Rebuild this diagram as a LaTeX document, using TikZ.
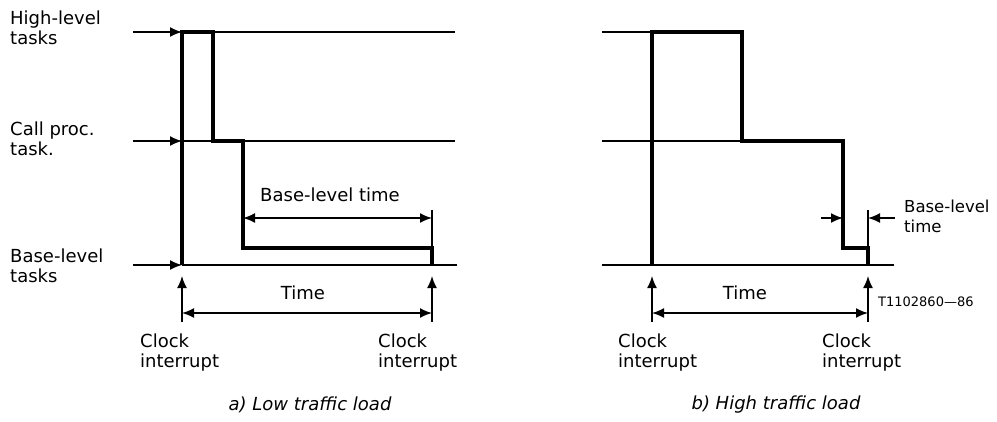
\documentclass[tikz,border=0pt]{standalone}
\usepackage{fontspec}
\setmainfont{DejaVu Sans}
\usetikzlibrary{arrows.meta, calc, positioning}
\tikzset{
  % thin level line style
  lvl/.style={
    line width = 1.7pt
  },
  % thick task trace style
  trace/.style={
    line width = 3.6pt
    , line join=miter
  },
}
\tikzset{
  % Graph arrow styles
  garr/.style={
    line width = 1.7pt
    , -{Latex[length=12pt,width=10pt]}
  },
  darr/.style={
    line width = 1.7pt
    , {Latex[length=12pt,width=10pt]}-{Latex[length=12pt,width=10pt]}
  },
  % label style
  lbl/.style={
    font=\fontsize{18}{20}\selectfont
    , align=left
    , inner sep=0pt
  },
}

\begin{document}
\begin{tikzpicture}[x=1pt, y=-1pt]
  \useasboundingbox (0,0) rectangle (997,421);

  %%%% a) Low traffic load
  \coordinate (aH0) at (133,32);  \coordinate (aH1) at (182,32);  \coordinate (aHe) at (455,32);
  \coordinate (aC0) at (133,141); \coordinate (aC1) at (182,141); \coordinate (aCe) at (455,141);
  \coordinate (aB0) at (133,265); \coordinate (aB1) at (182,265); \coordinate (aBe) at (457,265);
  \coordinate (aE)  at (432,265);

  \node[lbl, anchor=west] (hightxt) at (10,28)  {High-level\\tasks};
  \node[lbl, anchor=west] (calltxt) at (10,139) {Call proc.\\task.};
  \node[lbl, anchor=west] (basetxt) at (10,266) {Base-level\\tasks};

  % levels
  \draw[garr] (aH0) -- (aH1);
  \draw[garr] (aC0) -- (aC1);
  \draw[garr] (aB0) -- (aB1);
  \draw[lvl] (aH1) -- (aHe);
  \draw[lvl] (aC1) -- (aCe);
  \draw[lvl] (aB1) -- (aBe);

  % trace
  \draw[trace] (aB1) -- (aH1) -- (213,32) -- (213,141) -- (243,141)
    -- (243,248) -- (432,248) -- (aE);

  % base-level time
  \draw[lvl] (432,210) -- (432,248);
  \draw[darr] (243,218) -- (432,218);
  \node[lbl] (abltxt) at (330,195) {Base-level time};

  % clock interrupts
  \coordinate (aK1) at (182,322); \coordinate (aK2) at (432,322);
  \draw[garr] (aK1) -- ($(aB1)+(0,11)$);
  \draw[garr] (aK2) -- ($(aE)+(0,11)$);
  \draw[darr] ($(aK1)+(0,-9)$) -- ($(aK2)+(0,-9)$);
  \node[lbl] (atime) at (303,293) {Time};
  \node[lbl, anchor=north west] (aclk1) at (140,334) {Clock\\interrupt};
  \node[lbl, anchor=north west] (aclk2) at (378,334) {Clock\\interrupt};

  \node[lbl, font=\fontsize{18}{20}\selectfont\itshape] (acap) at (310,405) {a) Low traffic load};

  %%%% b) High traffic load
  \coordinate (bH0) at (602,32);  \coordinate (bH1) at (652,32);
  \coordinate (bC0) at (602,141); \coordinate (bC1) at (742,141);
  \coordinate (bB0) at (602,265); \coordinate (bB1) at (652,265); \coordinate (bBe) at (894,265);
  \coordinate (bE)  at (868,265);

  % levels
  \draw[lvl] (bH0) -- (bH1);
  \draw[lvl] (bC0) -- (bC1);
  \draw[lvl] (bB0) -- (bBe);

  % trace
  \draw[trace] (bB1) -- (bH1) -- (742,32) -- (bC1) -- (843,141)
    -- (843,248) -- (868,248) -- (bE);

  % base-level time
  \draw[lvl] (868,210) -- (868,248);
  \draw[garr] (821,218) -- (843,218);
  \draw[garr] (895,218) -- (868,218);
  \node[lbl, anchor=west, font=\fontsize{16.5}{20}\selectfont] (bbltxt) at (904,216) {Base-level\\time};

  % clock interrupts
  \coordinate (bK1) at (652,322); \coordinate (bK2) at (868,322);
  \draw[garr] (bK1) -- ($(bB1)+(0,11)$);
  \draw[garr] (bK2) -- ($(bE)+(0,11)$);
  \draw[darr] ($(bK1)+(0,-9)$) -- ($(bK2)+(0,-9)$);
  \node[lbl] (btime) at (745,293) {Time};
  \node[lbl, anchor=north west] (bclk1) at (618,334) {Clock\\interrupt};
  \node[lbl, anchor=north west] (bclk2) at (822,334) {Clock\\interrupt};
  \node[lbl, anchor=west, font=\fontsize{13}{15}\selectfont] (figno) at (878,302) {T1102860—86};

  \node[lbl, font=\fontsize{18}{20}\selectfont\itshape] (bcap) at (776,405) {b) High traffic load};
\end{tikzpicture}
\end{document}
